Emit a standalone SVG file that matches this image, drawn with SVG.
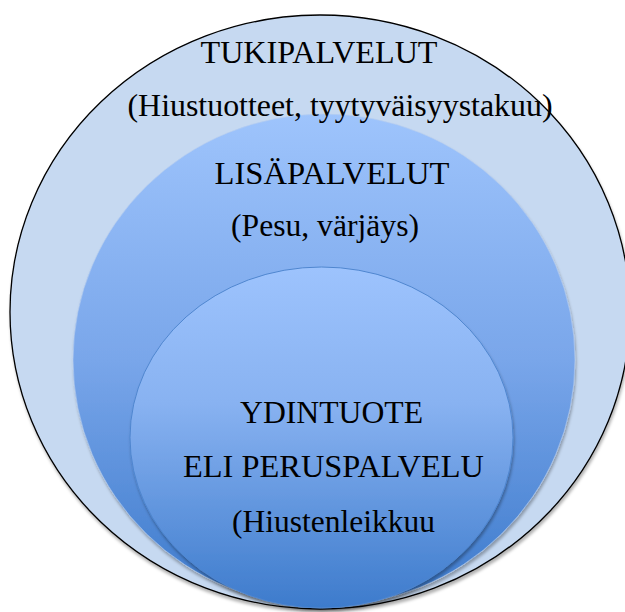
<svg xmlns="http://www.w3.org/2000/svg" width="625" height="612" viewBox="0 0 625 612">
  <defs>
    <linearGradient id="gMid" x1="0" y1="0" x2="0" y2="1">
      <stop offset="0" stop-color="#9ec4fc"/>
      <stop offset="0.5" stop-color="#79a6ea"/>
      <stop offset="1" stop-color="#3b79cb"/>
    </linearGradient>
    <linearGradient id="gIn" x1="0" y1="0" x2="0" y2="1">
      <stop offset="0" stop-color="#9dc3fd"/>
      <stop offset="0.4" stop-color="#88b2f1"/>
      <stop offset="1" stop-color="#3d7bcc"/>
    </linearGradient>
    <filter id="sh" x="-10%" y="-10%" width="120%" height="120%">
      <feDropShadow dx="1" dy="3" stdDeviation="1.5" flood-color="#000" flood-opacity="0.3"/>
    </filter>
  </defs>
  <style>
    text { font-family: "Liberation Serif", "Times New Roman", serif; font-size: 32px; fill: #000; text-anchor: middle; }
  </style>
  <g id="tukipalvelut">
    <ellipse cx="320" cy="312" rx="310" ry="297" fill="#c6d9f1" stroke="#000" stroke-width="1.3" filter="url(#sh)"/>
  </g>
  <g id="lisapalvelut">
    <ellipse cx="324" cy="360" rx="251" ry="246" fill="url(#gMid)" stroke="#b9cfee" stroke-opacity="0.6" stroke-width="1" filter="url(#sh)"/>
  </g>
  <g id="ydintuote">
    <ellipse cx="321.5" cy="437.5" rx="191.5" ry="170.5" fill="url(#gIn)" stroke="#4f86cf" stroke-width="1" filter="url(#sh)"/>
  </g>
  <g id="labels">
    <text x="319" y="63" textLength="237" lengthAdjust="spacingAndGlyphs">TUKIPALVELUT</text>
    <text x="340" y="116" textLength="425" lengthAdjust="spacingAndGlyphs">(Hiustuotteet, tyytyväisyystakuu)</text>
    <text x="332" y="184" textLength="235" lengthAdjust="spacingAndGlyphs">LISÄPALVELUT</text>
    <text x="325" y="236" textLength="188" lengthAdjust="spacingAndGlyphs">(Pesu, värjäys)</text>
    <text x="331.5" y="423" textLength="183" lengthAdjust="spacingAndGlyphs">YDINTUOTE</text>
    <text x="333.5" y="477" textLength="301" lengthAdjust="spacingAndGlyphs">ELI PERUSPALVELU</text>
    <text x="333.5" y="532" textLength="203" lengthAdjust="spacingAndGlyphs">(Hiustenleikkuu</text>
  </g>
</svg>
